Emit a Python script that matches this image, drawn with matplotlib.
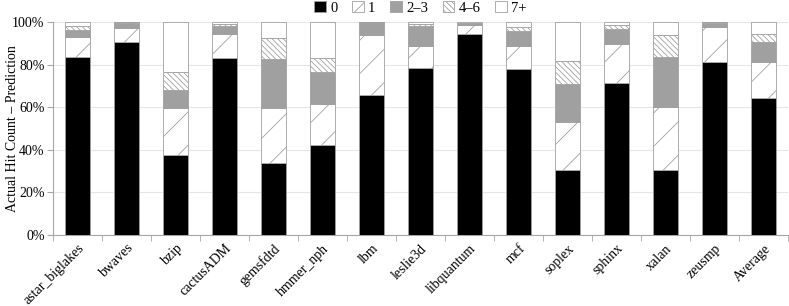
import numpy as np
import matplotlib
matplotlib.use('Agg')
import matplotlib.pyplot as plt

plt.rcParams['font.family'] = ['Liberation Serif', 'DejaVu Serif']
plt.rcParams['hatch.linewidth'] = 0.6

# benchmarks along the x axis
categories = ['astar_biglakes', 'bwaves', 'bzip', 'cactusADM', 'gemsfdtd',
              'hmmer_nph', 'lbm', 'leslie3d', 'libquantum', 'mcf', 'soplex',
              'sphinx', 'xalan', 'zeusmp', 'Average']

# cumulative tops (in %), one list per bucket
top_0 = [83.7, 90.5, 37.6, 83.3, 34.0, 42.4, 65.6, 78.2, 94.2, 78.1,
         30.5, 71.5, 30.4, 81.4, 64.3]
top_1 = [93.1, 97.3, 59.8, 94.2, 59.8, 61.3, 93.7, 88.9, 98.6, 88.9,
         53.1, 89.8, 60.3, 97.8, 81.4]
top_23 = [96.2, 99.7, 68.1, 98.3, 82.6, 76.7, 100.0, 98.3, 99.4, 95.9,
          70.7, 96.9, 83.7, 99.7, 90.5]
top_46 = [98.3, 100.0, 76.4, 99.1, 92.3, 82.9, 100.0, 99.2, 99.6, 97.8,
          81.7, 98.6, 93.9, 100.0, 94.4]
top_7 = [100.0] * 15

labels = ['0', '1', '2\u20133', '4\u20136', '7+']

# turn the cumulative tops into segment heights
tops = np.array([top_0, top_1, top_23, top_46, top_7])
heights = np.diff(np.vstack([np.zeros(len(categories)), tops]), axis=0)

fig = plt.figure(figsize=(7.89, 3.06), dpi=100)
ax = fig.add_axes([0.067, 0.232, 0.932, 0.696])

styles = [
    dict(color='black', hatch=None),
    dict(color='white', hatch='/'),
    dict(color='#a0a0a0', hatch=None),
    dict(color='white', hatch='\\' * 6),
    dict(color='white', hatch=None),
]

x = np.arange(len(categories))
bottom = np.zeros(len(categories))
for h, lab, st in zip(heights, labels, styles):
    ax.bar(x, h, 0.5, bottom=bottom, color=st['color'], hatch=st['hatch'],
           edgecolor='#a0a0a0', linewidth=0.6, label=lab, zorder=3)
    bottom += h

ax.set_xlim(-0.5, len(categories) - 0.5)
ax.set_ylim(0, 100)
ax.set_yticks(np.arange(0, 101, 20))
ax.set_yticklabels(['%d%%' % v for v in range(0, 101, 20)], fontsize=10)
ax.yaxis.grid(True, color='#e6e6e6', linewidth=0.8, zorder=0)
ax.set_ylabel('Actual Hit Count \u2013 Prediction', fontsize=10)
ax.yaxis.set_label_coords(-0.046, 0.5)

ax.set_xticks(x)
ax.set_xticklabels(categories, rotation=45, ha='right', rotation_mode='anchor',
                   fontsize=10)
ax.tick_params(axis='x', length=0, pad=5)
ax.set_xticks(np.arange(-0.5, len(categories), 1), minor=True)
ax.tick_params(axis='x', which='minor', length=4, color='#a6a6a6')
ax.tick_params(axis='y', length=4, pad=2, color='#a6a6a6')

for s in ['top', 'right']:
    ax.spines[s].set_visible(False)
for s in ['left', 'bottom']:
    ax.spines[s].set_color('#a6a6a6')

ax.legend(loc='lower center', bbox_to_anchor=(0.5, 1.0), ncol=5,
          frameon=False, fontsize=10.5, handlelength=0.8, handleheight=0.8,
          handletextpad=0.3, columnspacing=1.0, borderaxespad=0.1)

fig.savefig('out.png', dpi=100)
